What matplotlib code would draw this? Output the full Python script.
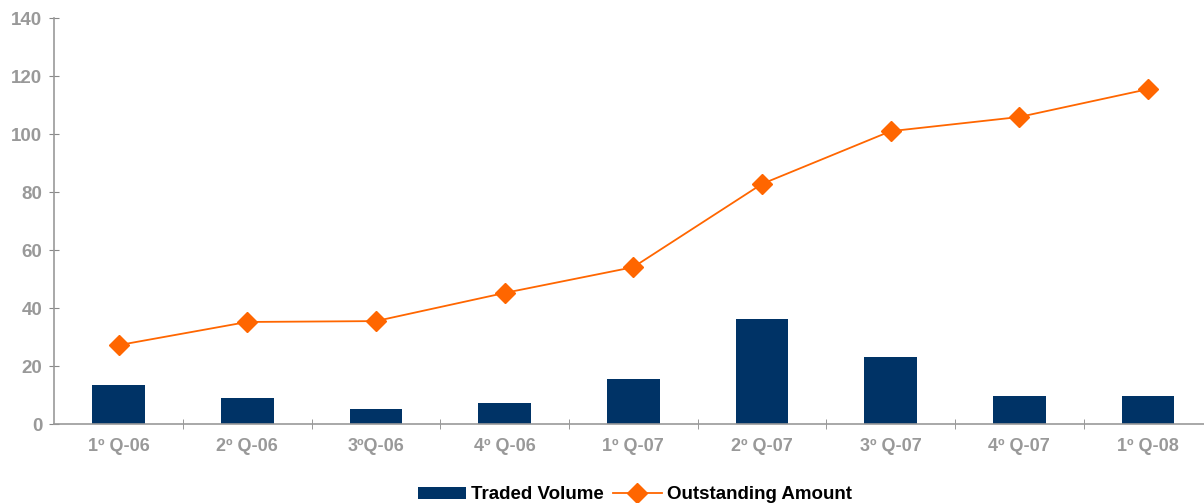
import matplotlib.pyplot as plt
import numpy as np

quarters = ['1º Q-06', '2º Q-06', '3ºQ-06', '4º Q-06', '1º Q-07',
            '2º Q-07', '3º Q-07', '4º Q-07', '1º Q-08']
traded_volume = [13.4, 9.0, 5.2, 7.2, 15.5, 36.2, 23.1, 9.7, 9.7]
outstanding_amount = [27.2, 35.2, 35.5, 45.2, 54.1, 82.8, 101.0, 105.9, 115.5]

plt.rcParams['font.family'] = ['Liberation Sans', 'DejaVu Sans']

fig = plt.figure(figsize=(12.04, 5.03), dpi=100)
ax = fig.add_axes([0.045, 0.157, 0.955, 0.807])

x = np.arange(len(quarters))
bars = ax.bar(x, traded_volume, width=0.41, color='#003366', label='Traded Volume', zorder=2)
line, = ax.plot(x, outstanding_amount, color='#FF6600', linewidth=1.3, marker='D',
                markersize=10, label='Outstanding Amount', zorder=3)

ax.set_xlim(-0.5, 8.435)
ax.set_ylim(0, 140)
ax.set_yticks(range(0, 141, 20))
ax.set_xticks(x)
ax.set_xticklabels(quarters)
ax.set_xticks(x[:-1] + 0.5, minor=True)

for side in ['top', 'right']:
    ax.spines[side].set_visible(False)
for side in ['left', 'bottom']:
    ax.spines[side].set_color('#999999')
    ax.spines[side].set_linewidth(1.2)

ax.tick_params(axis='x', which='major', length=0, pad=10)
ax.tick_params(axis='x', which='minor', direction='inout', length=7, color='#888888')
ax.tick_params(axis='y', direction='inout', length=7, color='#888888', pad=5)
for lbl in ax.get_xticklabels():
    lbl.set_fontsize(13)
    lbl.set_fontweight('bold')
    lbl.set_color('#999999')
for lbl in ax.get_yticklabels():
    lbl.set_fontsize(13.5)
    lbl.set_fontweight('bold')
    lbl.set_color('#999999')

fig.legend([bars, line], ['Traded Volume', 'Outstanding Amount'],
           loc='center', bbox_to_anchor=(0.527, 0.016), ncol=2, frameon=False,
           prop={'weight': 'bold', 'size': 13.5}, handlelength=2.6, handleheight=0.6,
           handletextpad=0.25, columnspacing=0.5, borderpad=0)

fig.savefig('out.png', dpi=100)
